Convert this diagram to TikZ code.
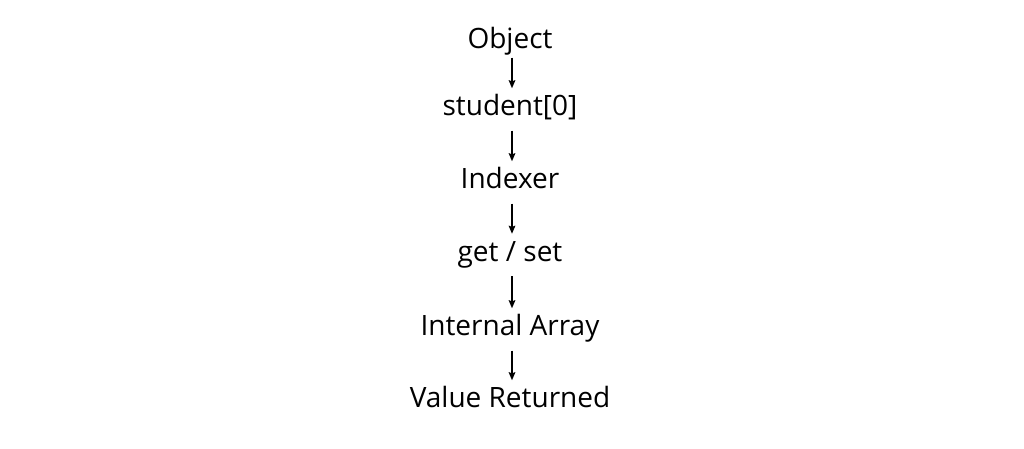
\documentclass[tikz,border=0pt]{standalone}
\usepackage{fontspec}
\setmainfont{Open Sans}
\usetikzlibrary{arrows.meta}
\begin{document}
\begin{tikzpicture}[x=1pt,y=1pt,
  lbl/.style={inner sep=0pt, anchor=base, text height=20pt, text depth=6pt,
    font=\fontsize{28}{31}\selectfont, text=black},
  flow/.style={line width=1.8pt, -{Stealth[length=8pt,width=6.5pt,inset=1pt]},
    shorten <=9pt, shorten >=7pt}]
\useasboundingbox[fill=white] (0,0) rectangle (1024,448);
\node[lbl] (obj) at (510,448-48.5) {Object};
\node[lbl] (stu) at (510,448-115.5) {student[0]};
\node[lbl] (idx) at (510,448-188.5) {Indexer};
\node[lbl] (gs)  at (510,448-261) {get / set};
\node[lbl] (arr) at (510,448-335.5) {Internal Array};
\node[lbl] (val) at (510,448-407.5) {Value Returned};
\draw[flow, shorten <=3pt] (obj.south -| 512,0) -- (stu.north -| 512,0);
\draw[flow] (stu.south -| 512,0) -- (idx.north -| 512,0);
\draw[flow] (idx.south -| 512,0) -- (gs.north -| 512,0);
\draw[flow] (gs.south -| 512,0) -- (arr.north -| 512,0);
\draw[flow] (arr.south -| 512,0) -- (val.north -| 512,0);
\end{tikzpicture}
\end{document}
